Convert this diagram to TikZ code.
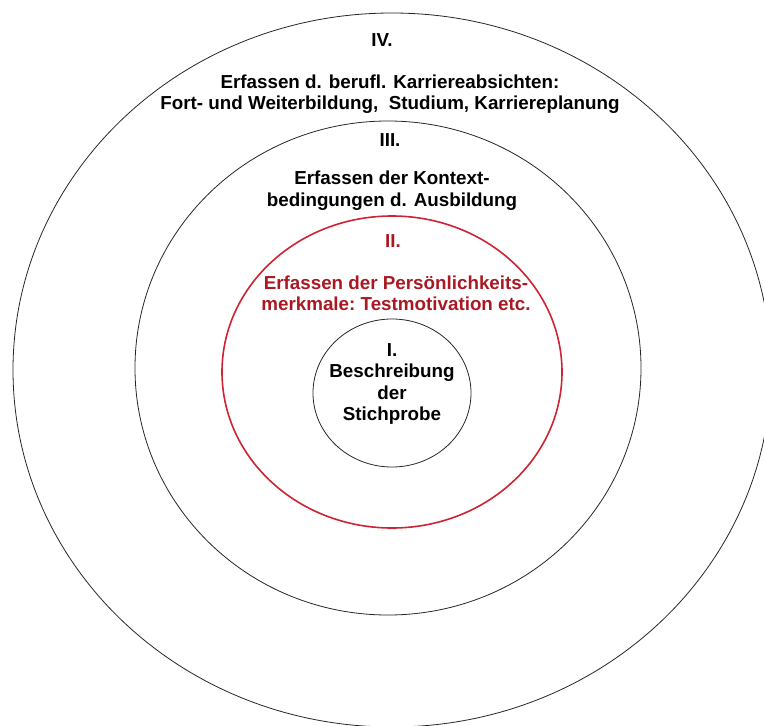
\documentclass[tikz,border=0pt]{standalone}
\usepackage{fontspec}
\setsansfont{Liberation Sans}
\definecolor{ringred}{RGB}{205,35,50}
\definecolor{textred}{RGB}{170,25,35}
\begin{document}
\begin{tikzpicture}[x=1pt, y=-1pt, font=\sffamily\bfseries, line join=round, line cap=round]
	\tikzset{ring/.style={draw=black!85, line width=0.8pt},
		lbl/.style={align=center, inner sep=0pt, font=\sffamily\bfseries\fontsize{18.8}{21.5}\selectfont}}
	\useasboundingbox (0,0) rectangle (764,726);
	% rings, outside in
	\draw[ring] (392,370) ellipse [x radius=379, y radius=357];
	\draw[ring] (388,368) ellipse [x radius=253, y radius=247];
	\draw[ring, draw=ringred, line width=1.6pt] (392,372) ellipse [x radius=170, y radius=156];
	\draw[ring] (392,393) ellipse [x radius=79, y radius=74];
	% labels
	\node[lbl] (nIV) at (382,40) {IV.};
	\node[lbl] (tIV) at (390,94) {Erfassen d. berufl. Karriereabsichten:\\Fort- und Weiterbildung,\ \ Studium, Karriereplanung};
	\node[lbl] (nIII) at (390,140) {III.};
	\node[lbl] (tIII) at (392,190.5) {Erfassen der Kontext-\\bedingungen d. Ausbildung};
	\node[lbl, textred] (nII) at (393,241) {II.};
	\node[lbl, textred] (tII) at (396,293.5) {Erfassen der Persönlichkeits-\\merkmale:\ Testmotivation etc.};
	\node[lbl] (tI) at (392,384) {I.\\Beschreibung\\der\\Stichprobe};
\end{tikzpicture}
\end{document}
